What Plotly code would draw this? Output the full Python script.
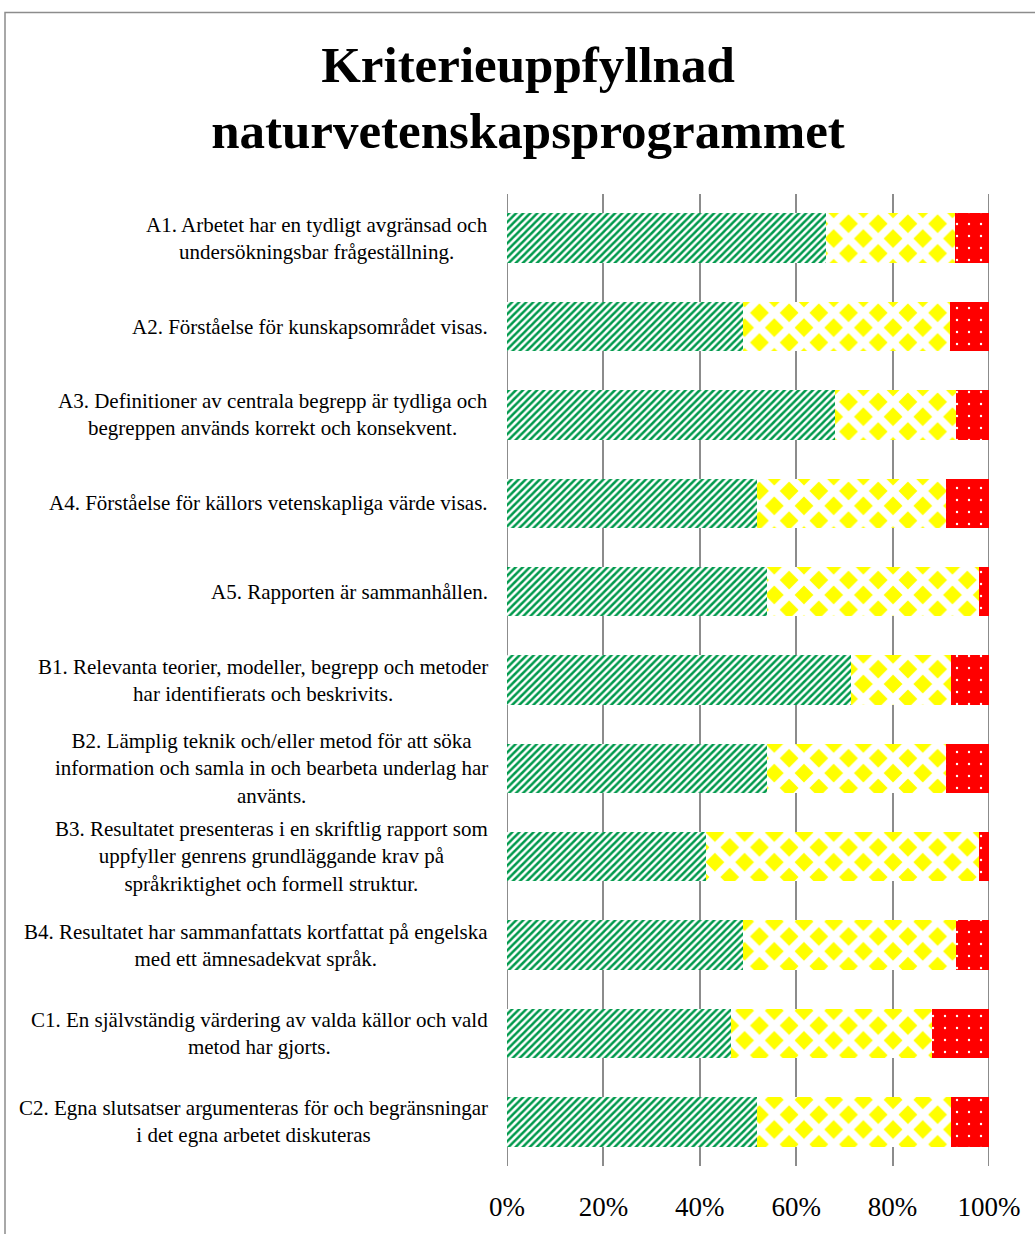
import plotly.graph_objects as go

categories = [
    "A1. Arbetet har en tydligt avgränsad och<br>undersökningsbar frågeställning.",
    "A2. Förståelse för kunskapsområdet visas.",
    "A3. Definitioner av centrala begrepp är tydliga och<br>begreppen används korrekt och konsekvent.",
    "A4. Förståelse för källors vetenskapliga värde visas.",
    "A5. Rapporten är sammanhållen.",
    "B1. Relevanta teorier, modeller, begrepp och metoder<br>har identifierats och beskrivits.",
    "B2. Lämplig teknik och/eller metod för att söka<br>information och samla in och bearbeta underlag har<br>använts.",
    "B3. Resultatet presenteras i en skriftlig rapport som<br>uppfyller genrens grundläggande krav på<br>språkriktighet och formell struktur.",
    "B4. Resultatet har sammanfattats kortfattat på engelska<br>med ett ämnesadekvat språk.",
    "C1. En självständig värdering av valda källor och vald<br>metod har gjorts.",
    "C2. Egna slutsatser argumenteras för och begränsningar<br>i det egna arbetet diskuteras",
]
keys = ["A1", "A2", "A3", "A4", "A5", "B1", "B2", "B3", "B4", "C1", "C2"]

uppfyllt = [66.2, 49.0, 68.0, 51.9, 53.9, 71.4, 53.9, 41.3, 49.0, 46.5, 51.9]
delvis = [26.7, 42.9, 25.2, 39.2, 44.0, 20.7, 37.2, 56.6, 44.2, 41.7, 40.2]
ej = [7.1, 8.1, 6.8, 8.9, 2.1, 7.9, 8.9, 2.1, 6.8, 11.8, 7.9]

x_ticks = [0, 20, 40, 60, 80, 100]
x_ticklabels = ["0%", "20%", "40%", "60%", "80%", "100%"]

SERIF = "Palatino Linotype, Book Antiqua, Palatino, Liberation Serif, serif"
GRID = "#8c8c8c"

fig = go.Figure()
fig.add_trace(go.Bar(
    y=keys, x=uppfyllt, orientation="h", name="Uppfyllt",
    marker=dict(color="white", line=dict(width=0),
                pattern=dict(shape="/", fgcolor="#00994C", bgcolor="white",
                             size=5, solidity=0.5, fillmode="replace")),
))
fig.add_trace(go.Bar(
    y=keys, x=delvis, orientation="h", name="Delvis uppfyllt",
    marker=dict(color="#FFFF00", line=dict(width=0),
                pattern=dict(shape="x", fgcolor="white", bgcolor="#FFFF00",
                             size=21, solidity=0.6, fillmode="replace")),
))
fig.add_trace(go.Bar(
    y=keys, x=ej, orientation="h", name="Ej uppfyllt",
    marker=dict(color="#FF0000", line=dict(width=0),
                pattern=dict(shape=".", fgcolor="white", bgcolor="#FF0000",
                             size=12, solidity=0.03, fillmode="replace")),
))

annotations = []
for k, lab in zip(keys, categories):
    annotations.append(dict(
        x=0, xref="paper", y=k, yref="y", xanchor="right", yanchor="middle",
        xshift=-17, text=lab, showarrow=False, align="center",
        font=dict(family=SERIF, size=21, color="black"),
    ))

L, R, T, B = 507, 46, 193.5, 62.5
W, H = 1035, 1234
pw, ph = W - L - R, H - T - B

shapes = [dict(type="rect", xref="paper", yref="paper",
               x0=(5 - L) / pw, x1=(W + 10 - L) / pw,
               y0=(H - B - (H + 10)) / ph, y1=(H - B - 11) / ph,
               line=dict(color=GRID, width=1.5), fillcolor="rgba(0,0,0,0)",
               layer="below")]
# edge gridlines (0% and 100%) which plotly omits at the range limits
for xv in (x_ticks[0], x_ticks[-1]):
    shapes.append(dict(type="line", xref="x", yref="paper", x0=xv, x1=xv,
                       y0=0, y1=1, line=dict(color=GRID, width=2), layer="below"))

fig.update_layout(
    width=W, height=H,
    margin=dict(l=L, r=R, t=T, b=B),
    barmode="stack", bargap=0.44,
    showlegend=False,
    paper_bgcolor="white", plot_bgcolor="white",
    title=dict(text="<b>Kriterieuppfyllnad<br>naturvetenskapsprogrammet</b>",
               x=528 / W, xanchor="center", xref="container",
               y=1 - 82 / H, yanchor="middle", yref="container",
               font=dict(family=SERIF, size=51, color="black")),
    annotations=annotations,
    xaxis=dict(range=[0, 100], tickvals=x_ticks, ticktext=x_ticklabels,
               showgrid=True, gridcolor=GRID, gridwidth=2,
               zeroline=False, showline=False, ticks="",
               ticklabelstandoff=22,
               tickfont=dict(family=SERIF, size=27, color="black")),
    yaxis=dict(categoryorder="array", categoryarray=keys, autorange="reversed",
               showticklabels=False, showgrid=False, zeroline=False, showline=False),
    shapes=shapes,
)

fig.write_html("out.html", config={"displayModeBar": False},
               post_script="document.body.style.margin='0';")
